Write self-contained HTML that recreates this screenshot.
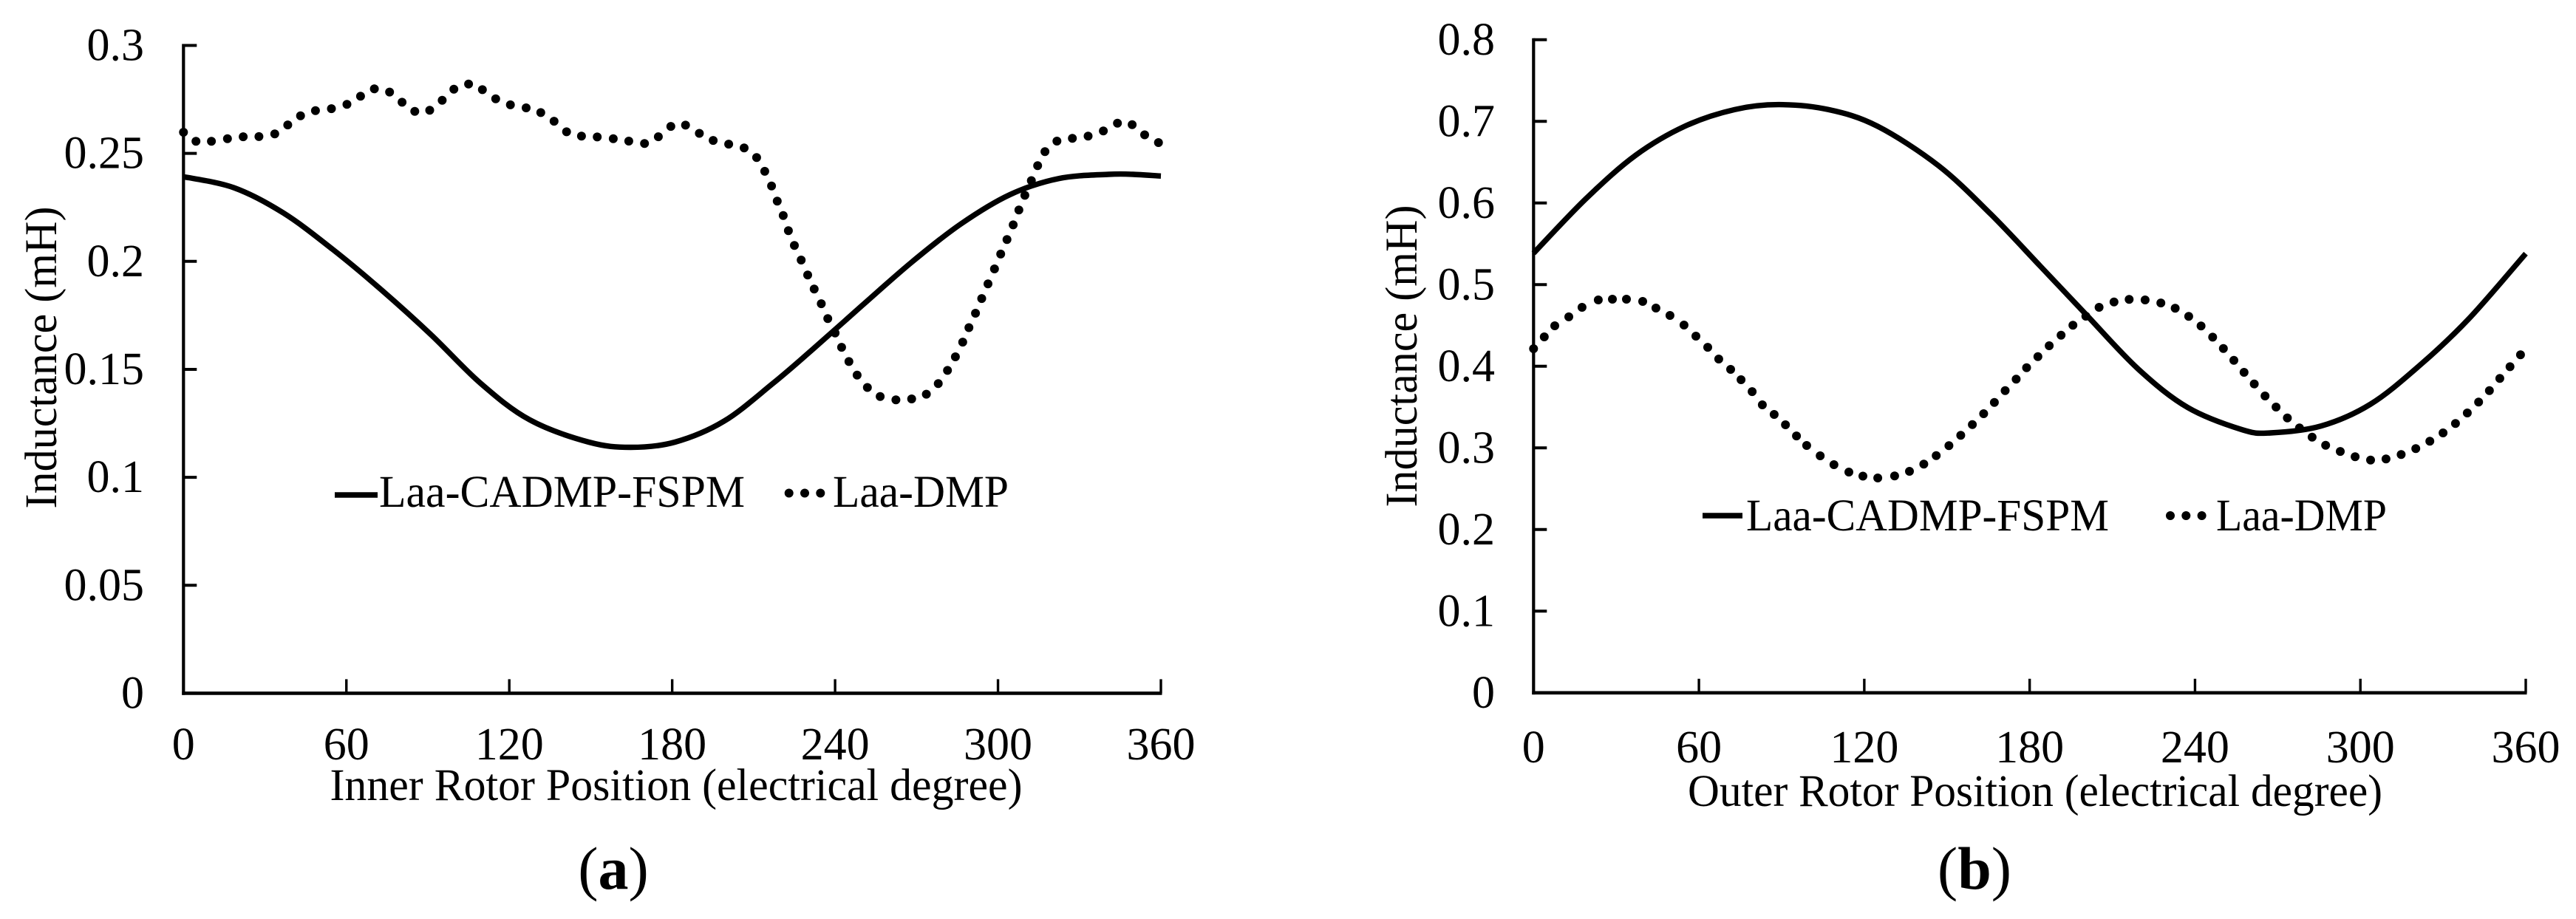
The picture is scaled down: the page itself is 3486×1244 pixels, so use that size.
<!DOCTYPE html>
<html lang="en">
<head>
<meta charset="utf-8">
<title>Inductance vs Rotor Position</title>
<style>
html,body{margin:0;padding:0;background:#fff;}
svg{display:block;font-family:"Liberation Serif","Times New Roman",serif;fill:#000;}
</style>
</head>
<body>
<svg id="figure" width="3486" height="1244" viewBox="0 0 3486 1244" xmlns="http://www.w3.org/2000/svg"></svg>
<script>
// Shared
const xTickLabels = [0, 60, 120, 180, 240, 300, 360];

// Panel (a) data
const aYTickLabels = ["0", "0.05", "0.1", "0.15", "0.2", "0.25", "0.3"];
const aYTickValues = [0, 0.05, 0.1, 0.15, 0.2, 0.25, 0.3];
const aSolidDeg = [0, 18.6, 36.8, 54.9, 73, 91.2, 109.3, 127.5, 149.3, 164.7, 181, 199.1, 217.3, 231.7, 250, 268.1, 286.2, 304.4, 322.5, 340.7, 349.7, 360];
const aSolidVal = [0.2392, 0.2341, 0.2224, 0.2056, 0.1867, 0.166, 0.1437, 0.1266, 0.1163, 0.1139, 0.1163, 0.126, 0.1437, 0.1592, 0.1796, 0.1995, 0.2172, 0.2309, 0.2384, 0.2403, 0.2403, 0.2395];
const aDotDeg = [0, 4.6, 10.3, 16.2, 22, 27.8, 33.6, 38.4, 43.1, 48.6, 54.5, 60.2, 65.2, 70.3, 75.9, 80.5, 85.2, 90.7, 95.3, 99.6, 105, 110.1, 115, 120.4, 126.2, 131.6, 136.5, 141.1, 146.6, 152.4, 158.3, 164, 169.8, 174.9, 179.5, 184.9, 190, 195.1, 200.8, 206.5, 211.1, 214.1, 216.6, 218.7, 220.9, 222.8, 225, 227.5, 229.9, 232.3, 234.9, 237.3, 240, 242.4, 245.1, 248.1, 251.9, 256.6, 262.4, 268.2, 273.6, 278, 281.4, 284.3, 287, 289.3, 291.7, 294, 296.3, 298.7, 301, 303.3, 305.6, 307.7, 309.9, 312.3, 314.6, 317.3, 321.7, 327.4, 333.2, 338.8, 344, 349.4, 354, 359.1];
const aDotVal = [0.2598, 0.2556, 0.2556, 0.2568, 0.2577, 0.2578, 0.259, 0.2632, 0.2674, 0.2698, 0.2707, 0.2727, 0.2765, 0.2799, 0.2784, 0.2737, 0.2695, 0.27, 0.2746, 0.2797, 0.2821, 0.2795, 0.2753, 0.2725, 0.2711, 0.2689, 0.2649, 0.26, 0.258, 0.2576, 0.2568, 0.2557, 0.2546, 0.2577, 0.2625, 0.2631, 0.2593, 0.256, 0.2543, 0.2525, 0.2481, 0.2417, 0.2349, 0.2279, 0.2212, 0.2142, 0.2074, 0.2006, 0.1937, 0.1872, 0.1804, 0.1735, 0.1668, 0.1602, 0.1536, 0.1473, 0.1416, 0.1374, 0.1359, 0.1363, 0.1385, 0.1434, 0.1495, 0.1558, 0.1626, 0.1693, 0.176, 0.1828, 0.1896, 0.1965, 0.2034, 0.2101, 0.2169, 0.2238, 0.2306, 0.2374, 0.2443, 0.2508, 0.2557, 0.257, 0.258, 0.2604, 0.264, 0.2633, 0.2586, 0.255];

// Panel (b) data
const bYTickLabels = ["0", "0.1", "0.2", "0.3", "0.4", "0.5", "0.6", "0.7", "0.8"];
const bYTickValues = [0, 0.1, 0.2, 0.3, 0.4, 0.5, 0.6, 0.7, 0.8];
const bSolidDeg = [0, 19.2, 37.1, 55, 73, 89, 106.9, 124.7, 147, 165.9, 183.8, 200.7, 219.5, 237.4, 257.1, 267.4, 285.7, 303.6, 321.4, 339.3, 360];
const bSolidVal = [0.5385, 0.6059, 0.6586, 0.6942, 0.7145, 0.7205, 0.7145, 0.6942, 0.6455, 0.5863, 0.5229, 0.4625, 0.3962, 0.3494, 0.3223, 0.3184, 0.3268, 0.3534, 0.4007, 0.458, 0.538];
const bDotDeg = [0, 3.9, 7.7, 12.8, 17.6, 23.5, 28.6, 33.7, 39.6, 44.4, 49.5, 54.6, 58.9, 63.2, 67.2, 71.5, 75.3, 79.3, 83, 87.3, 91.4, 95.4, 99.1, 104, 109, 114.4, 119.5, 124.9, 131, 136.4, 141.6, 146.1, 150.7, 155, 159.2, 163.3, 167.2, 171.1, 175.1, 178.9, 183, 187.1, 191.4, 195.7, 200.4, 205.2, 210.6, 216.1, 221.9, 227.6, 232.8, 237.7, 242.2, 246.4, 250.3, 254.1, 257.8, 261.5, 265.4, 269.4, 273.5, 277.9, 282.5, 287.4, 292.7, 298.1, 303.7, 309.3, 314.8, 320.1, 325.2, 330, 334.5, 338.8, 342.9, 346.8, 350.6, 354.3, 358.1];
const bDotVal = [0.4215, 0.436, 0.4496, 0.4605, 0.4722, 0.4813, 0.4822, 0.4822, 0.4795, 0.4713, 0.4623, 0.4505, 0.4369, 0.4233, 0.4089, 0.3962, 0.3835, 0.369, 0.3528, 0.341, 0.3283, 0.3147, 0.303, 0.2903, 0.2795, 0.2704, 0.2654, 0.2632, 0.2656, 0.2713, 0.2801, 0.2906, 0.3027, 0.3154, 0.3286, 0.3419, 0.3557, 0.3702, 0.3842, 0.3983, 0.4119, 0.4252, 0.4381, 0.4502, 0.4614, 0.4722, 0.4788, 0.4819, 0.4813, 0.4776, 0.471, 0.4611, 0.4493, 0.4357, 0.4218, 0.4073, 0.3926, 0.3784, 0.3636, 0.35, 0.3367, 0.3244, 0.3132, 0.3033, 0.2957, 0.2891, 0.2851, 0.2864, 0.2919, 0.2991, 0.3081, 0.3184, 0.3299, 0.3428, 0.3561, 0.3702, 0.3851, 0.3995, 0.414];

const NS = "http://www.w3.org/2000/svg";
const root = document.getElementById("figure");

function make(parent, tag, attrs, text) {
  const el = document.createElementNS(NS, tag);
  for (const k in attrs) el.setAttribute(k, attrs[k]);
  if (text !== undefined) el.textContent = text;
  parent.appendChild(el);
  return el;
}

// Catmull-Rom smooth path through points
function smoothPath(pts) {
  let d = "M" + pts[0][0].toFixed(1) + " " + pts[0][1].toFixed(1);
  for (let i = 0; i < pts.length - 1; i++) {
    const p0 = pts[Math.max(i - 1, 0)], p1 = pts[i], p2 = pts[i + 1], p3 = pts[Math.min(i + 2, pts.length - 1)];
    const c1x = p1[0] + (p2[0] - p0[0]) / 6, c1y = p1[1] + (p2[1] - p0[1]) / 6;
    const c2x = p2[0] - (p3[0] - p1[0]) / 6, c2y = p2[1] - (p3[1] - p1[1]) / 6;
    d += "C" + c1x.toFixed(1) + " " + c1y.toFixed(1) + " " + c2x.toFixed(1) + " " + c2y.toFixed(1) + " " + p2[0].toFixed(1) + " " + p2[1].toFixed(1);
  }
  return d;
}

function drawPanel(cfg) {
  const xScale = v => cfg.x0 + (v / 360) * (cfg.x1 - cfg.x0);
  const yScale = v => cfg.y0 - (v / cfg.yMax) * (cfg.y0 - cfg.yTop);
  const g = make(root, "g", {});
  
  

  // axes
  const yAxis = make(g, "line", {x1: cfg.x0, x2: cfg.x0, y1: cfg.yTop - 2, y2: cfg.y0 + 2.3, stroke: "#000", "stroke-width": 4.2});
  
  
  const xAxis = make(g, "line", {x1: cfg.x0 - 2, x2: cfg.x1 + 1.5, y1: cfg.y0, y2: cfg.y0, stroke: "#000", "stroke-width": 4.6});
  
  

  // y ticks (inward)
  cfg.yVals.forEach((v, i) => {
    const y = yScale(v);
    const t = make(g, "line", {x1: cfg.x0, x2: cfg.x0 + 18, y1: y, y2: y, stroke: "#000", "stroke-width": 4});
    
    
    const l = make(g, "text", {x: cfg.yLabelX, y: y + 20, "text-anchor": "end", "font-size": 62}, cfg.yLabels[i]);
    
    
  });

  // x ticks
  xTickLabels.forEach(v => {
    const x = xScale(v);
    if (v > 0) {
      const t = make(g, "line", {x1: x, x2: x, y1: cfg.y0 - 19, y2: cfg.y0, stroke: "#000", "stroke-width": 3.4});
      
      
    }
    const l = make(g, "text", {x: x, y: cfg.xLabelY, "text-anchor": "middle", "font-size": 62}, String(v));
    
    
  });

  // solid series
  const solid = make(g, "path", {
    d: smoothPath(cfg.solidDeg.map((d, i) => [xScale(d), yScale(cfg.solidVal[i])])),
    fill: "none", stroke: "#000", "stroke-width": 7.4, "stroke-linejoin": "round"
  });
  
  

  // dotted series
  const dots = make(g, "g", {});
  
  
  cfg.dotDeg.forEach((d, i) => {
    const c = make(dots, "circle", {cx: xScale(d).toFixed(1), cy: yScale(cfg.dotVal[i]).toFixed(1), r: 6, fill: "#000"});
    
    
  });

  // titles
  const xt = make(g, "text", {x: cfg.xTitleX, y: cfg.xTitleY, "text-anchor": "middle", "font-size": 61, textLength: cfg.xTitleLen, lengthAdjust: "spacingAndGlyphs"}, cfg.xTitle);
  
  
  const yt = make(g, "text", {transform: "translate(" + cfg.yTitleX + " " + cfg.yTitleY + ") rotate(-90)", "text-anchor": "middle", "font-size": 61, textLength: 409, lengthAdjust: "spacingAndGlyphs"}, "Inductance (mH)");
  
  

  // legend
  const leg = make(g, "g", {});
  
  
  const ls = make(leg, "line", {x1: cfg.legLineX1, x2: cfg.legLineX2, y1: cfg.legLineY, y2: cfg.legLineY, stroke: "#000", "stroke-width": 7.5});
  
  
  const lt1 = make(leg, "text", {x: cfg.legText1X, y: cfg.legBase, "font-size": 61, textLength: cfg.legText1Len, lengthAdjust: "spacingAndGlyphs"}, "Laa-CADMP-FSPM");
  
  
  const ld = make(leg, "line", {x1: cfg.legDotX1, x2: cfg.legDotX1 + 43, y1: cfg.legDotY, y2: cfg.legDotY, stroke: "#000", "stroke-width": 12, "stroke-linecap": "round", "stroke-dasharray": "0 21.3"});
  
  
  const lt2 = make(leg, "text", {x: cfg.legText2X, y: cfg.legBase, "font-size": 61, textLength: cfg.legText2Len, lengthAdjust: "spacingAndGlyphs"}, "Laa-DMP");
  
  

  // caption
  const cap = make(g, "text", {x: cfg.capX, y: 1203, "text-anchor": "middle", "font-size": 82});
  
  
  make(cap, "tspan", {}, "(");
  make(cap, "tspan", {"font-weight": "bold"}, cfg.capLetter);
  make(cap, "tspan", {}, ")");
}

drawPanel({
  id: "panel-a", x0: 248.3, x1: 1571, y0: 938.4, yTop: 61.5, yMax: 0.3,
  yLabels: aYTickLabels, yVals: aYTickValues, yLabelX: 195,
  xLabelY: 1028, solidDeg: aSolidDeg, solidVal: aSolidVal, dotDeg: aDotDeg, dotVal: aDotVal,
  xTitle: "Inner Rotor Position (electrical degree)", xTitleX: 915, xTitleY: 1083, xTitleLen: 937,
  yTitleX: 76, yTitleY: 484,
  legLineY: 670, legDotY: 667.5, legBase: 686, legLineX1: 453, legLineX2: 511, legText1X: 513, legText1Len: 495,
  legDotX1: 1067.7, legText2X: 1127, legText2Len: 238,
  capX: 830, capLetter: "a"
});

drawPanel({
  id: "panel-b", x0: 2075.3, x1: 3418, y0: 937.8, yTop: 53.8, yMax: 0.8,
  yLabels: bYTickLabels, yVals: bYTickValues, yLabelX: 2023,
  xLabelY: 1032, solidDeg: bSolidDeg, solidVal: bSolidVal, dotDeg: bDotDeg, dotVal: bDotVal,
  xTitle: "Outer Rotor Position (electrical degree)", xTitleX: 2754, xTitleY: 1091, xTitleLen: 940,
  yTitleX: 1917, yTitleY: 482,
  legLineY: 698, legDotY: 698, legBase: 718, legLineX1: 2304, legLineX2: 2358, legText1X: 2363, legText1Len: 491,
  legDotX1: 2937, legText2X: 2999, legText2Len: 231,
  capX: 2672, capLetter: "b"
});
</script>
</body>
</html>
